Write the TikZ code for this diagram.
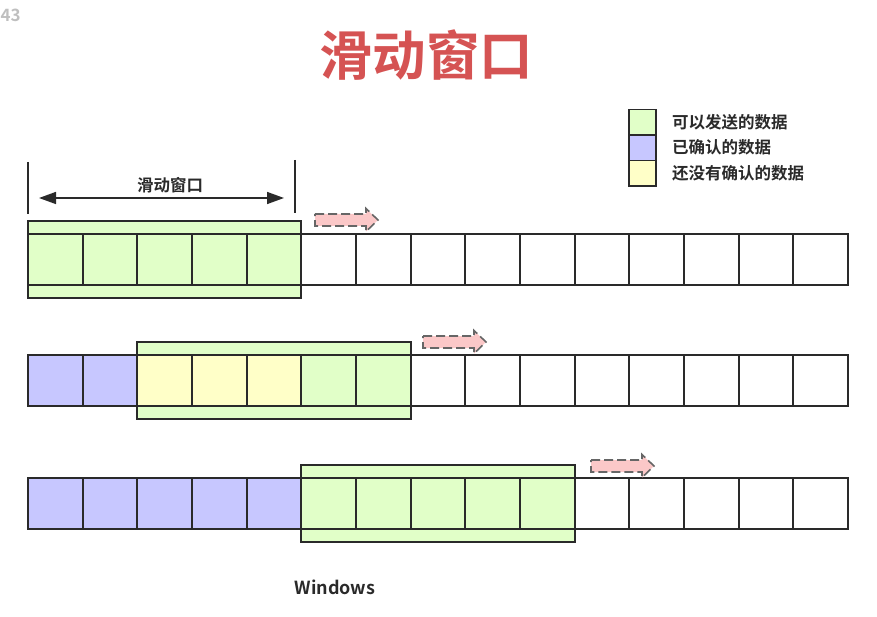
\documentclass[tikz,border=0pt]{standalone}
\usepackage{fontspec}
\setmainfont{Noto Sans CJK SC}
\newfontfamily\cjkb{Noto Sans CJK SC Bold}
\usetikzlibrary{arrows.meta,calc}
\definecolor{gcell}{HTML}{E1FFC8}
\definecolor{bcell}{HTML}{C7C7FF}
\definecolor{ycell}{HTML}{FFFFC8}
\definecolor{wcell}{HTML}{FFFFFF}
\definecolor{ttlred}{HTML}{D55353}
\definecolor{pinkarr}{HTML}{FBC8C8}
\definecolor{edge}{HTML}{2A2A2A}
\tikzset{
  cellbox/.style={draw=edge,line width=2.2pt,minimum width=54.67pt,minimum height=51pt,inner sep=0pt,outer sep=0pt,anchor=north west},
  winbox/.style={draw=edge,line width=2.2pt,fill=gcell,minimum width=273.3pt,minimum height=77pt,inner sep=0pt,outer sep=0pt,anchor=north west},
  legbox/.style={draw=edge,line width=1.5pt,minimum width=27pt,minimum height=25.5pt,inner sep=0pt,anchor=north west},
  legtxt/.style={anchor=west,font=\cjkb\fontsize{16.5}{18}\selectfont,text=edge,inner sep=0pt},
  movearrow/.style={draw=black!60,dashed,dash pattern=on 9pt off 4pt,line width=1.6pt,fill=pinkarr},
}
\begin{document}
\begin{tikzpicture}[x=1pt,y=-1pt]
\useasboundingbox (0,0) rectangle (877,617);
% page number
\node[anchor=west,text=black!25,font=\cjkb\fontsize{17}{19}\selectfont,inner sep=0pt] (pg) at (0.5,15) {43};
% title
\node[text=ttlred,font=\cjkb\fontsize{53.5}{58}\selectfont,inner sep=0pt] (title) at (426,55) {滑动窗口};
% legend
\node[legbox,fill=gcell] (lg1) at (628,109) {};
\node[legbox,fill=bcell] (lg2) at (628,134.5) {};
\node[legbox,fill=ycell] (lg3) at (628,160) {};
\node[legtxt] (lt1) at (672,122) {可以发送的数据};
\node[legtxt] (lt2) at (672,147) {已确认的数据};
\node[legtxt] (lt3) at (672,173) {还没有确认的数据};
% dimension
\coordinate (dl1) at (28,162); \coordinate (dl2) at (28,214);
\coordinate (dr1) at (295,160); \coordinate (dr2) at (295,213);
\draw[edge,line width=1.5pt] (dl1) -- (dl2);
\draw[edge,line width=1.5pt] (dr1) -- (dr2);
\coordinate (da) at (39,198); \coordinate (db) at (284,198);
\draw[edge,line width=1.5pt,{Triangle[length=17pt,width=12pt]}-{Triangle[length=17pt,width=12pt]}] (da) -- (db);
\node[font=\cjkb\fontsize{16.5}{18}\selectfont,text=edge,inner sep=0pt] (dimlbl) at (170,185) {滑动窗口};
% rows
\def\cw{54.6667}
% row 1
\node[winbox] (w1) at (28,221) {};
\foreach \i in {0,...,14}{
  \pgfmathsetmacro\xx{28+\i*\cw}
  \ifnum\i<5 \def\fc{gcell}\else\def\fc{wcell}\fi
  \node[cellbox,fill=\fc] (c1-\i) at (\xx,234) {};
}
% row 2
\node[winbox] (w2) at (137.33,342) {};
\foreach \i in {0,...,14}{
  \pgfmathsetmacro\xx{28+\i*\cw}
  \ifnum\i<2 \def\fc{bcell}\else\ifnum\i<5 \def\fc{ycell}\else\ifnum\i<7 \def\fc{gcell}\else\def\fc{wcell}\fi\fi\fi
  \node[cellbox,fill=\fc] (c2-\i) at (\xx,355) {};
}
% row 3
\node[winbox] (w3) at (301.33,465) {};
\foreach \i in {0,...,14}{
  \pgfmathsetmacro\xx{28+\i*\cw}
  \ifnum\i<5 \def\fc{bcell}\else\ifnum\i<10 \def\fc{gcell}\else\def\fc{wcell}\fi\fi
  \node[cellbox,fill=\fc] (c3-\i) at (\xx,478) {};
}
% redraw window outlines on top
\foreach \w in {w1,w2,w3}{
  \draw[edge,line width=2.2pt] (\w.north west) rectangle (\w.south east);
}
% move arrows
\foreach \n/\ax/\ay in {m1/315/220,m2/423/342,m3/591/466}{
  \coordinate (\n) at (\ax,\ay);
  \draw[movearrow] ($(\n)+(0,-6)$) -- ++(51,0) -- ++(0,-5.5) -- ++(12,11.5) -- ++(-12,11.5) -- ++(0,-5.5) -- ++(-51,0) -- cycle;
}
% bottom label
\node[font=\cjkb\fontsize{18}{20}\selectfont,text=edge,inner sep=0pt] (wlbl) at (335,587) {Windows};
\end{tikzpicture}
\end{document}
